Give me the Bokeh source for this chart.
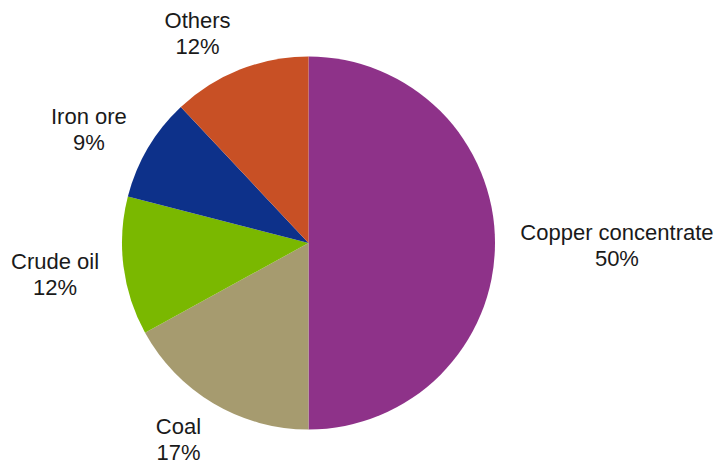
import numpy as np
from bokeh.plotting import figure
from bokeh.models import Range1d
from bokeh.embed import file_html
from bokeh.resources import INLINE
from bokeh.core.properties import value

# ---- data ----
categories = ["Copper concentrate", "Coal", "Crude oil", "Iron ore", "Others"]
shares = [50, 17, 12, 9, 12]
colors = ["#8E3289", "#A69B6F", "#7AB800", "#0D318A", "#C85025"]

# ---- layout ----
W, H = 715, 466
FONT = "Liberation Sans"
FS = 22
p = figure(width=W, height=H, x_range=Range1d(0, W), y_range=Range1d(0, H),
           output_backend="svg", toolbar_location=None, min_border=0)
p.axis.visible = False
p.grid.visible = False
p.outline_line_color = None
p.background_fill_color = "white"
p.border_fill_color = "white"

cx, cy, R = 308.0, 223.5, 186.5
frac = np.array(shares, dtype=float) / sum(shares)
cum = np.concatenate([[0.0], np.cumsum(frac)])
start = np.pi / 2 - 2 * np.pi * cum[:-1]
end = np.pi / 2 - 2 * np.pi * cum[1:]

p.wedge(x=cx, y=cy, radius=R, start_angle=start, end_angle=end,
        direction="clock", fill_color=colors, line_color=None)

# approximate Arial character widths (em) for label box sizing
cw = {"C": .722, "o": .556, "p": .556, "e": .556, "r": .333, " ": .278,
      "c": .5, "n": .556, "t": .278, "a": .556, "l": .222, "i": .222,
      "u": .556, "d": .556, "I": .278, "O": .778, "h": .556, "s": .5}

theta = 2 * np.pi * (cum[:-1] + cum[1:]) / 2  # clockwise from top
gap = 24
lx, ly1, ly2, t1, t2 = [], [], [], [], []
for name, s, t in zip(categories, shares, theta):
    sx, sy = np.sin(t), np.cos(t)
    px = cx + (R + gap) * sx
    py = cy + (R + gap) * sy
    w = sum(cw.get(ch, .556) for ch in name) * 22.3
    bx = px + (np.sign(sx) * w / 2 if abs(sx) > 0.3 else 0)
    by = py + sy * 18 + 6
    by = max(by, 36.0)  # keep the bottom label inside the canvas
    lx.append(bx)
    ly1.append(by + 4.5)
    ly2.append(by - 21.5)
    t1.append(name)
    t2.append(f"{s}%")

for yy, tt in ((ly1, t1), (ly2, t2)):
    p.text(x=lx, y=yy, text=tt, text_align="center", text_baseline="alphabetic",
           text_font=value(FONT), text_font_size=f"{FS}px", text_color="#1a1a1a")

open("out.html", "w").write(file_html(p, INLINE))
